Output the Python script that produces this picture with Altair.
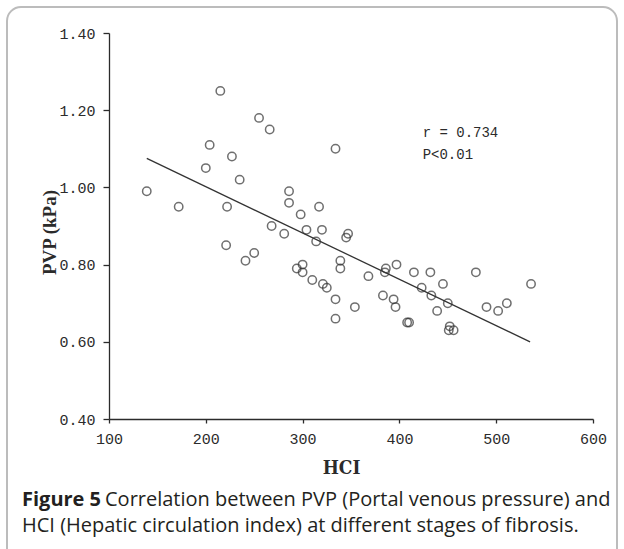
import altair as alt
import pandas as pd

# Scatter data
hci = [139, 172, 200, 204, 215, 222, 221, 227, 235, 241, 250, 255, 266, 268, 281,
       286, 286, 298, 300, 294, 300, 304, 310, 314, 317, 320, 321, 325, 334, 334,
       334, 339, 339, 347, 345, 354, 368, 383, 386, 385, 394, 396, 397, 408, 410,
       415, 423, 432, 433, 439, 445, 450, 452, 451, 456, 479, 490, 502, 511, 536]
pvp = [0.99, 0.95, 1.05, 1.11, 1.25, 0.95, 0.85, 1.08, 1.02, 0.81, 0.83, 1.18, 1.15, 0.90, 0.88,
       0.99, 0.96, 0.93, 0.80, 0.79, 0.78, 0.89, 0.76, 0.86, 0.95, 0.89, 0.75, 0.74, 1.10, 0.71,
       0.66, 0.81, 0.79, 0.88, 0.87, 0.69, 0.77, 0.72, 0.79, 0.78, 0.71, 0.69, 0.80, 0.65, 0.65,
       0.78, 0.74, 0.78, 0.72, 0.68, 0.75, 0.70, 0.64, 0.63, 0.63, 0.78, 0.69, 0.68, 0.70, 0.75]

# Fitted line end points
fit_hci = [139, 535]
fit_pvp = [1.075, 0.60]

# Annotation
note_text = ["r = 0.734", "P<0.01"]
note_hci = [424, 424]
note_pvp = [1.142, 1.085]

x_ticks = [100, 200, 300, 400, 500, 600]
y_ticks = [0.40, 0.60, 0.80, 1.00, 1.20, 1.40]

caption_bold = "Figure 5"
caption_rest = "Correlation between PVP (Portal venous pressure) and"
caption_line2 = "HCI (Hepatic circulation index) at different stages of fibrosis."

pts = pd.DataFrame({"HCI": hci, "PVP": pvp})
fit = pd.DataFrame({"HCI": fit_hci, "PVP": fit_pvp})
notes = pd.DataFrame({"HCI": note_hci, "PVP": note_pvp, "t": note_text})
one = pd.DataFrame({"a": [0]})

TICK_FONT = "Liberation Mono"
INK = "#2b2b2b"

xs = alt.Scale(domain=[100, 600], nice=False, zero=False)
ys = alt.Scale(domain=[0.40, 1.40], nice=False, zero=False)

xaxis = alt.Axis(values=x_ticks, format="d", grid=False, tickSize=4, labelPadding=8,
                 labelFlush=False, labelOverlap=False,
                 labelFont=TICK_FONT, labelFontSize=15, labelColor=INK,
                 domainColor=INK, tickColor=INK, domainWidth=1.3, tickWidth=1.3,
                 title="HCI", titleFont="DejaVu Serif Condensed, Liberation Serif",
                 titleFontWeight="bold", titleFontSize=19, titleColor=INK,
                 titleX=232, titleY=48, titleBaseline="middle")
yaxis = alt.Axis(values=y_ticks, format=".2f", grid=False, tickSize=6, labelPadding=8,
                 labelFlush=False, labelOverlap=False,
                 labelFont=TICK_FONT, labelFontSize=15, labelColor=INK,
                 domainColor=INK, tickColor=INK, domainWidth=1.3, tickWidth=1.3,
                 title="PVP (kPa)", titleFont="Liberation Serif",
                 titleFontWeight="bold", titleFontSize=19, titleColor=INK,
                 titleX=-60, titleY=199, titleBaseline="middle", titleAngle=270)

points = alt.Chart(pts).mark_point(shape="circle", filled=False, size=70,
                                   stroke="#333333", strokeWidth=1.5).encode(
    x=alt.X("HCI:Q", scale=xs, axis=xaxis),
    y=alt.Y("PVP:Q", scale=ys, axis=yaxis),
)

line = alt.Chart(fit).mark_line(color="#333333", strokeWidth=1.3).encode(
    x=alt.X("HCI:Q", scale=xs), y=alt.Y("PVP:Q", scale=ys)
)

note = alt.Chart(notes).mark_text(font=TICK_FONT, fontSize=14, align="left",
                                  baseline="middle", color=INK).encode(
    x=alt.X("HCI:Q", scale=xs), y=alt.Y("PVP:Q", scale=ys), text="t:N"
)

frame = alt.Chart(one).mark_rect(fill="transparent", stroke="#bcbcbc", strokeWidth=2,
                                 cornerRadius=14).encode(
    x=alt.value(-102), x2=alt.value(508), y=alt.value(-26), y2=alt.value(540)
)

cap_font = "Open Sans"
cap_size = 20
cap1a = alt.Chart(one).mark_text(text=caption_bold, font=cap_font, fontSize=cap_size,
                                 fontWeight="bold", align="left", baseline="middle",
                                 color="#231f20").encode(x=alt.value(-87), y=alt.value(467))
cap1b = alt.Chart(one).mark_text(text=caption_rest, font=cap_font, fontSize=cap_size,
                                 align="left", baseline="middle",
                                 color="#231f20").encode(x=alt.value(-4), y=alt.value(467))
cap2 = alt.Chart(one).mark_text(text=caption_line2, font=cap_font, fontSize=cap_size,
                                align="left", baseline="middle",
                                color="#231f20").encode(x=alt.value(-87), y=alt.value(493))

chart = alt.layer(frame, line, points, note, cap1a, cap1b, cap2).properties(
    width=484, height=386,
    autosize=alt.AutoSizeParams(type="none"),
    padding={"left": 109, "top": 33, "right": 31, "bottom": 130},
    background="white",
).configure_view(stroke=None)

chart.save("out.html", embed_options={"renderer": "svg", "actions": False})
